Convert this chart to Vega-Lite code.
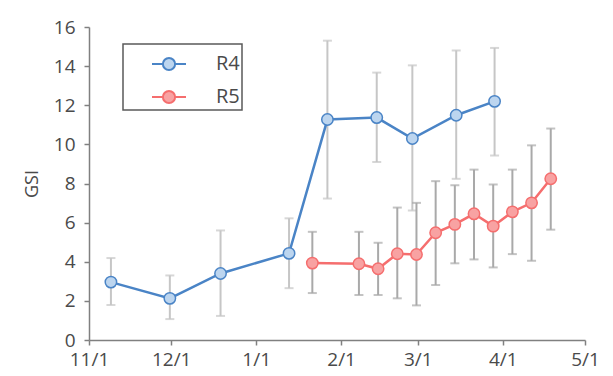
{
  "$schema": "https://vega.github.io/schema/vega-lite/v6.json",
  "width": 496,
  "height": 313,
  "autosize": "none",
  "padding": {"left": 89, "top": 27, "right": 28, "bottom": 36},
  "background": "white",
  "config": {
    "font": "Open Sans",
    "view": {"stroke": null},
    "axis": {
      "grid": false,
      "domainColor": "#808080",
      "domainWidth": 1.5,
      "tickColor": "#808080",
      "tickWidth": 1.5,
      "tickSize": 5,
      "labelFontSize": 19,
      "labelColor": "#4a4a4a",
      "titleColor": "#4a4a4a",
      "titleFontWeight": "normal"
    }
  },
  "datasets": {
    "gsi": [
      {"series": "R4", "date": "2021-11-09T00:00", "gsi": 2.96, "lo": 1.79, "hi": 4.19},
      {"series": "R4", "date": "2021-11-30T12:00", "gsi": 2.13, "lo": 1.07, "hi": 3.30},
      {"series": "R4", "date": "2021-12-19T00:00", "gsi": 3.40, "lo": 1.23, "hi": 5.60},
      {"series": "R4", "date": "2022-01-13T00:00", "gsi": 4.43, "lo": 2.65, "hi": 6.22},
      {"series": "R4", "date": "2022-01-27T00:00", "gsi": 11.27, "lo": 7.23, "hi": 15.30},
      {"series": "R4", "date": "2022-02-14T00:00", "gsi": 11.37, "lo": 9.10, "hi": 13.67},
      {"series": "R4", "date": "2022-02-27T00:00", "gsi": 10.30, "lo": 6.62, "hi": 14.04},
      {"series": "R4", "date": "2022-03-15T00:00", "gsi": 11.49, "lo": 8.24, "hi": 14.80},
      {"series": "R4", "date": "2022-03-29T00:00", "gsi": 12.20, "lo": 9.43, "hi": 14.93},
      {"series": "R5", "date": "2022-01-21T12:00", "gsi": 3.93, "lo": 2.40, "hi": 5.53},
      {"series": "R5", "date": "2022-02-07T12:00", "gsi": 3.90, "lo": 2.30, "hi": 5.53},
      {"series": "R5", "date": "2022-02-14T12:00", "gsi": 3.64, "lo": 2.30, "hi": 4.97},
      {"series": "R5", "date": "2022-02-21T12:00", "gsi": 4.41, "lo": 2.13, "hi": 6.77},
      {"series": "R5", "date": "2022-02-28T12:00", "gsi": 4.37, "lo": 1.77, "hi": 7.01},
      {"series": "R5", "date": "2022-03-07T12:00", "gsi": 5.48, "lo": 2.81, "hi": 8.12},
      {"series": "R5", "date": "2022-03-14T12:00", "gsi": 5.91, "lo": 3.92, "hi": 7.91},
      {"series": "R5", "date": "2022-03-21T12:00", "gsi": 6.45, "lo": 4.12, "hi": 8.71},
      {"series": "R5", "date": "2022-03-28T12:00", "gsi": 5.82, "lo": 3.71, "hi": 7.95},
      {"series": "R5", "date": "2022-04-04T12:00", "gsi": 6.55, "lo": 4.39, "hi": 8.71},
      {"series": "R5", "date": "2022-04-11T12:00", "gsi": 7.01, "lo": 4.05, "hi": 9.95},
      {"series": "R5", "date": "2022-04-18T12:00", "gsi": 8.24, "lo": 5.64, "hi": 10.81}
    ]
  },
  "data": {"name": "gsi"},
  "encoding": {
    "x": {
      "field": "date",
      "type": "temporal",
      "scale": {"domain": [{"year": 2021, "month": 11, "date": 1}, {"year": 2022, "month": 5, "date": 1}]},
      "axis": {
        "title": null,
        "format": "%-m/%-d",
        "tickCount": {"interval": "month", "step": 1},
        "labelFlush": false,
        "labelOverlap": false,
        "labelPadding": 5
      }
    }
  },
  "layer": [
    {
      "transform": [{"filter": "datum.series === 'R4'"}],
      "mark": {"type": "errorbar", "ticks": {"size": 9}, "thickness": 2, "color": "#c6c6c6"},
      "encoding": {
        "y": {"field": "lo", "type": "quantitative", "scale": {"domain": [0, 16]}, "axis": {"title": "GSI", "values": [0, 2, 4, 6, 8, 10, 12, 14, 16], "labelPadding": 9, "titleFontSize": 18, "titlePadding": 12}},
        "y2": {"field": "hi"}
      }
    },
    {
      "transform": [{"filter": "datum.series === 'R5'"}],
      "mark": {"type": "errorbar", "ticks": {"size": 9}, "thickness": 2, "color": "#a9a9a9"},
      "encoding": {
        "y": {"field": "lo", "type": "quantitative", "axis": {"title": "GSI", "values": [0, 2, 4, 6, 8, 10, 12, 14, 16], "labelPadding": 9, "titleFontSize": 18, "titlePadding": 12}},
        "y2": {"field": "hi"}
      }
    },
    {
      "mark": {"type": "line", "strokeWidth": 2.5},
      "encoding": {
        "y": {"field": "gsi", "type": "quantitative", "axis": {"title": "GSI", "values": [0, 2, 4, 6, 8, 10, 12, 14, 16], "labelPadding": 9, "titleFontSize": 18, "titlePadding": 12}},
        "stroke": {
          "field": "series",
          "type": "nominal",
          "scale": {"domain": ["R4", "R5"], "range": ["#4a84c6", "#f56e6e"]},
          "legend": {
            "title": null,
            "orient": "none",
            "legendX": 34,
            "legendY": 17,
            "padding": 2,
            "rowPadding": 4,
            "symbolOffset": 26,
            "labelOffset": 29,
            "labelFontSize": 20,
            "labelColor": "#4a4a4a",
            "fillColor": "white",
            "strokeColor": "#5a5a5a",
            "symbolType": "M-1,0L-0.36,0M0.36,0L1,0M0.36,0A0.36,0.36,0,1,1,-0.36,0A0.36,0.36,0,1,1,0.36,0Z",
            "symbolSize": 1156,
            "symbolStrokeWidth": 2,
            "labelExpr": "datum.label + '\u00a0\u00a0\u00a0\u00a0\u00a0'",
            "encode": {
              "symbols": {"update": {"fill": {"signal": "datum.value === 'R4' ? '#bcd5ef' : '#f8a2a2'"}, "fillOpacity": {"value": 1}}},
              "legend": {"update": {"strokeWidth": {"value": 1.5}}}
            }
          }
        }
      }
    },
    {
      "mark": {"type": "point", "shape": "circle", "filled": true, "opacity": 1, "size": 130, "strokeWidth": 1.5},
      "encoding": {
        "y": {"field": "gsi", "type": "quantitative", "axis": {"title": "GSI", "values": [0, 2, 4, 6, 8, 10, 12, 14, 16], "labelPadding": 9, "titleFontSize": 18, "titlePadding": 12}},
        "stroke": {"field": "series", "type": "nominal"},
        "fill": {"field": "series", "type": "nominal", "scale": {"domain": ["R4", "R5"], "range": ["#bcd5ef", "#f8a2a2"]}}
      }
    }
  ]
}
